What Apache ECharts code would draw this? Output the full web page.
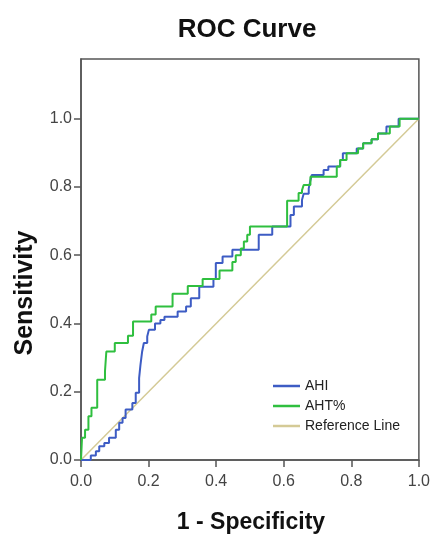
<!DOCTYPE html>
<html><head><meta charset="utf-8">
<script src="https://cdn.jsdelivr.net/npm/echarts@6/dist/echarts.min.js"></script>
<style>html,body{margin:0;padding:0;background:#fff}#c{width:433px;height:535px}</style>
</head><body><div id="c"></div>
<script>
// AHI ROC curve corner points (1 - specificity, sensitivity)
var ahiFpr = [0, 0.029, 0.044, 0.054, 0.069, 0.083, 0.103, 0.113, 0.123, 0.132, 0.152, 0.162, 0.172, 0.176, 0.181, 0.186, 0.196, 0.201, 0.219, 0.235, 0.247, 0.286, 0.311, 0.325, 0.350, 0.392, 0.399, 0.419, 0.448, 0.526, 0.566, 0.620, 0.630, 0.654, 0.659, 0.674, 0.678, 0.683, 0.718, 0.732, 0.767, 0.775, 0.816, 0.835, 0.860, 0.879, 0.904, 0.940, 1.0];
var ahiTpr = [0, 0.013, 0.026, 0.040, 0.050, 0.065, 0.089, 0.109, 0.123, 0.148, 0.167, 0.197, 0.240, 0.279, 0.318, 0.343, 0.362, 0.382, 0.400, 0.410, 0.420, 0.435, 0.450, 0.474, 0.508, 0.530, 0.577, 0.596, 0.616, 0.660, 0.684, 0.718, 0.743, 0.762, 0.780, 0.796, 0.815, 0.835, 0.850, 0.860, 0.879, 0.899, 0.913, 0.928, 0.940, 0.957, 0.977, 1.000, 1.000];
// AHT% ROC curve corner points
var ahtFpr = [0, 0.003, 0.012, 0.022, 0.031, 0.048, 0.071, 0.075, 0.100, 0.139, 0.154, 0.208, 0.221, 0.271, 0.316, 0.360, 0.410, 0.448, 0.458, 0.473, 0.482, 0.492, 0.500, 0.610, 0.644, 0.654, 0.659, 0.679, 0.757, 0.767, 0.786, 0.820, 0.835, 0.860, 0.879, 0.914, 0.943, 1.0];
var ahtTpr = [0, 0.065, 0.089, 0.128, 0.153, 0.235, 0.260, 0.318, 0.343, 0.364, 0.406, 0.426, 0.450, 0.487, 0.510, 0.530, 0.555, 0.580, 0.600, 0.620, 0.640, 0.660, 0.684, 0.760, 0.782, 0.790, 0.806, 0.830, 0.860, 0.879, 0.899, 0.913, 0.928, 0.940, 0.957, 0.977, 1.000, 1.000];
// Reference line
var refFpr = [0, 1];
var refTpr = [0, 1];
var tickValues = [0, 0.2, 0.4, 0.6, 0.8, 1.0];
var seriesNames = ['AHI', 'AHT%', 'Reference Line'];

function pairs(xs, ys) { return xs.map(function (x, i) { return [x, ys[i]]; }); }

var FONT = '"Liberation Sans", Arial, sans-serif';
var chart = echarts.init(document.getElementById('c'), null, { renderer: 'canvas' });
chart.setOption({
  animation: false,
  backgroundColor: '#fff',
  grid: { left: 81, right: 12, top: 59, bottom: 75, show: true, borderColor: '#555', borderWidth: 1.5, backgroundColor: 'transparent' },
  title: {
    text: 'ROC Curve', left: 242, top: 12, textAlign: 'center',
    textStyle: { fontFamily: FONT, fontSize: 26, fontWeight: 'bold', color: '#111' }
  },
  legend: {
    orient: 'vertical', left: 273, top: 379, padding: 0,
    icon: 'rect', itemWidth: 27, itemHeight: 2.5, itemGap: 6,
    data: seriesNames,
    textStyle: { fontFamily: FONT, fontSize: 14, color: '#222', lineHeight: 14 }
  },
  xAxis: {
    type: 'value', min: 0, max: 1, interval: 0.2,
    axisLine: { show: true, lineStyle: { color: '#555', width: 1.5 } },
    axisTick: { show: true, inside: false, length: 7, lineStyle: { color: '#555', width: 1.5 } },
    axisLabel: { fontFamily: FONT, fontSize: 16, color: '#444', margin: 14, formatter: function (v) { return v.toFixed(1); } },
    splitLine: { show: false }
  },
  yAxis: {
    type: 'value', min: 0, max: 1.175, interval: 0.2,
    axisLine: { show: true, lineStyle: { color: '#555', width: 1.5 } },
    axisTick: { show: true, length: 7, customValues: tickValues, lineStyle: { color: '#555', width: 1.5 } },
    axisLabel: { fontFamily: FONT, fontSize: 16, color: '#444', margin: 9, customValues: tickValues, formatter: function (v) { return v.toFixed(1); } },
    splitLine: { show: false }
  },
  graphic: [
    { type: 'text', x: 251, y: 523, style: { text: '1 - Specificity', font: 'bold 23px ' + FONT, fill: '#111', textAlign: 'center', textVerticalAlign: 'middle' } },
    { type: 'text', x: 25, y: 293, rotation: Math.PI / 2, style: { text: 'Sensitivity', font: 'bold 25px ' + FONT, fill: '#111', textAlign: 'center', textVerticalAlign: 'middle' } }
  ],
  series: [
    { name: 'Reference Line', type: 'line', data: pairs(refFpr, refTpr), symbol: 'none', z: 1,
      lineStyle: { color: '#d4ca96', width: 1.5 }, itemStyle: { color: '#d4ca96' } },
    { name: 'AHI', type: 'line', step: 'end', data: pairs(ahiFpr, ahiTpr), symbol: 'none',
      lineStyle: { color: '#3d5cc4', width: 2 }, itemStyle: { color: '#3d5cc4' } },
    { name: 'AHT%', type: 'line', step: 'end', data: pairs(ahtFpr, ahtTpr), symbol: 'none',
      lineStyle: { color: '#2fbf3f', width: 2 }, itemStyle: { color: '#2fbf3f' } }
  ]
});
</script>
</body></html>
